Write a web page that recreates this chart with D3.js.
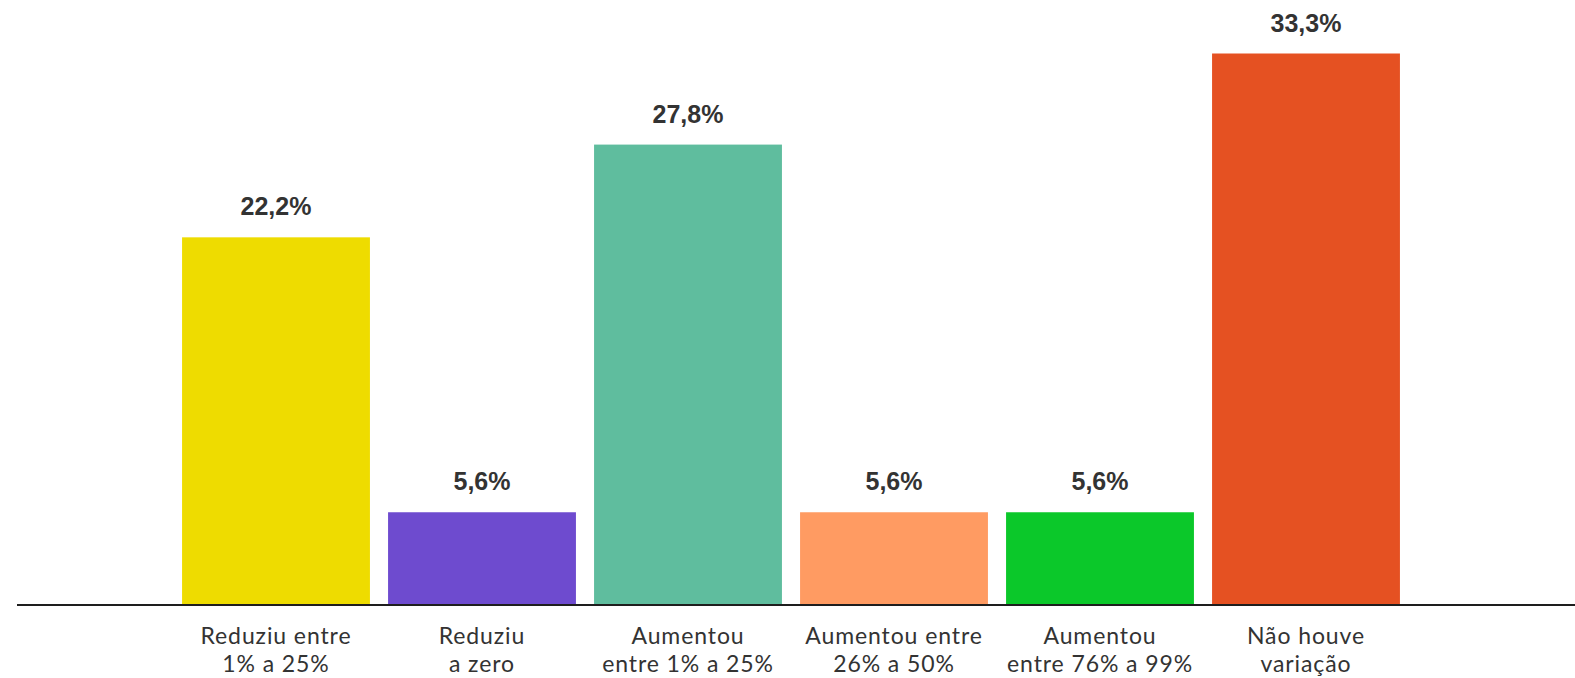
<!DOCTYPE html>
<html>
<head>
<meta charset="utf-8">
<script src="https://cdn.jsdelivr.net/npm/d3@7"></script>
<style>
  html, body { margin: 0; padding: 0; background: #fff; }
  svg { display: block; }
</style>
</head>
<body>
<div id="chart"></div>
<script>
const categories = [
  ["Reduziu entre", "1% a 25%"],
  ["Reduziu", "a zero"],
  ["Aumentou", "entre 1% a 25%"],
  ["Aumentou entre", "26% a 50%"],
  ["Aumentou", "entre 76% a 99%"],
  ["Não houve", "variação"]
];
const values = [22.2, 5.6, 27.8, 5.6, 5.6, 33.3];
const valueLabels = ["22,2%", "5,6%", "27,8%", "5,6%", "5,6%", "33,3%"];
const colors = ["#EEDC00", "#6E4BCF", "#5FBD9E", "#FF9B62", "#0BC82A", "#E55122"];

const W = 1575, H = 678;
const baseY = 605;

const svg = d3.select("#chart").append("svg")
  .attr("width", W).attr("height", H);

const ids = d3.range(categories.length);
const x = d3.scaleBand()
  .domain(ids)
  .range([173, 1409])
  .paddingInner(0.088)
  .paddingOuter(0.044);

const y = d3.scaleLinear()
  .domain([0, 33.3])
  .range([baseY, 53.5]);

svg.selectAll("rect.bar")
  .data(values)
  .join("rect")
  .attr("class", "bar")
  .attr("x", (d, i) => x(i))
  .attr("y", d => y(d))
  .attr("width", x.bandwidth())
  .attr("height", d => baseY - y(d))
  .attr("fill", (d, i) => colors[i]);

svg.selectAll("text.val")
  .data(values)
  .join("text")
  .attr("class", "val")
  .attr("x", (d, i) => x(i) + x.bandwidth() / 2)
  .attr("y", d => y(d) - 22)
  .attr("text-anchor", "middle")
  .attr("font-family", "'Liberation Sans', Arial, sans-serif")
  .attr("font-size", 25)
  .attr("font-weight", "bold")
  .attr("fill", "#333")
  .text((d, i) => valueLabels[i]);

// axis line
svg.append("line")
  .attr("x1", 17).attr("x2", W)
  .attr("y1", baseY).attr("y2", baseY)
  .attr("stroke", "#1e1e1e")
  .attr("stroke-width", 2);

const catG = svg.selectAll("text.cat")
  .data(categories)
  .join("text")
  .attr("class", "cat")
  .attr("text-anchor", "middle")
  .attr("font-family", "Lato, sans-serif")
  .attr("font-size", 23)
  .attr("letter-spacing", "0.9px")
  .attr("fill", "#333");

catG.each(function(lines, i) {
  const t = d3.select(this);
  lines.forEach((ln, k) => {
    t.append("tspan")
      .attr("x", x(i) + x.bandwidth() / 2)
      .attr("y", 644 + k * 28)
      .text(ln);
  });
});
</script>
</body>
</html>
